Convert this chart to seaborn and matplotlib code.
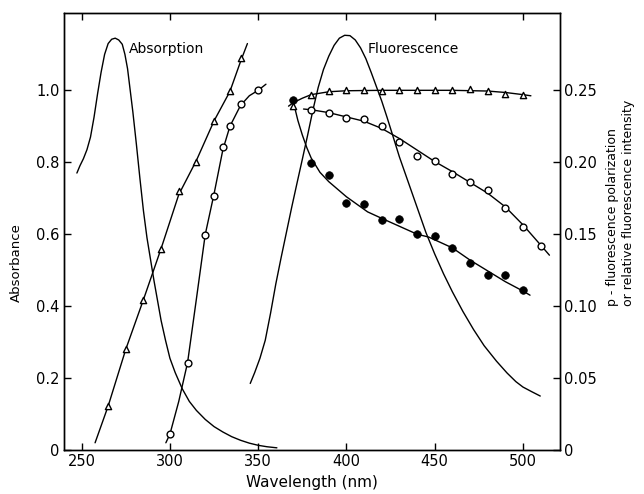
import matplotlib
matplotlib.use("Agg")
import matplotlib.pyplot as plt
import seaborn as sns

# ---------------- data ----------------
# Absorption spectrum (left axis, absorbance)
abs_wl = [247.3, 249, 251, 253, 255, 257, 259, 261, 263, 265, 267, 269, 271, 273,
          274.5, 276, 277.5, 279, 281, 283, 285, 287, 289, 291, 293, 295, 297.5,
          300, 303, 307, 311, 315, 320, 325, 330, 335, 340, 345, 350, 355, 360.6]
abs_val = [0.77, 0.79, 0.81, 0.835, 0.87, 0.925, 0.99, 1.05, 1.10, 1.13, 1.142,
           1.145, 1.14, 1.128, 1.10, 1.06, 1.00, 0.94, 0.85, 0.755, 0.665, 0.59,
           0.53, 0.47, 0.415, 0.36, 0.305, 0.255, 0.215, 0.17, 0.135, 0.11, 0.085,
           0.065, 0.05, 0.037, 0.027, 0.019, 0.013, 0.009, 0.006]

# Fluorescence emission spectrum (drawn in left-axis units)
fl_wl = [345.5, 348, 351, 354, 357, 360, 363, 366, 369, 372, 375, 378, 381, 384,
         387, 390, 393, 396, 399, 402, 405, 408, 411, 414, 417, 420, 423, 426,
         430, 435, 440, 445, 450, 455, 460, 466, 472, 478, 485, 491, 496, 500,
         505, 509.8]
fl_val = [0.185, 0.215, 0.255, 0.305, 0.38, 0.462, 0.535, 0.605, 0.675, 0.742,
          0.808, 0.875, 0.945, 1.008, 1.058, 1.095, 1.125, 1.145, 1.153, 1.152,
          1.14, 1.118, 1.088, 1.05, 1.01, 0.97, 0.925, 0.878, 0.815, 0.745, 0.675,
          0.605, 0.545, 0.49, 0.44, 0.385, 0.335, 0.29, 0.247, 0.214, 0.19,
          0.175, 0.162, 0.15]

# Left-axis series: triangles
tri_l_wl = [265, 275, 285, 295, 305, 315, 325, 334, 340]
tri_l_val = [0.122, 0.28, 0.418, 0.56, 0.72, 0.80, 0.915, 0.997, 1.09]
tri_l_fit_wl = [257.6, 265, 275, 285, 295, 305, 315, 325, 334, 340, 343.9]
tri_l_fit_val = [0.02, 0.122, 0.28, 0.418, 0.56, 0.71, 0.805, 0.915, 0.997, 1.08, 1.13]

# Left-axis series: open circles
circ_l_wl = [300, 310, 320, 325, 330, 334, 340, 350]
circ_l_val = [0.044, 0.243, 0.599, 0.706, 0.842, 0.9, 0.961, 1.0]
circ_l_fit_wl = [297.7, 300, 305, 310, 315, 320, 325, 330, 334, 340, 345, 350, 354.4]
circ_l_fit_val = [0.02, 0.044, 0.135, 0.243, 0.42, 0.599, 0.712, 0.835, 0.9, 0.958,
                  0.985, 1.0, 1.017]

# Right-axis series: triangles
tri_r_wl = [370, 380, 390, 400, 410, 420, 430, 440, 450, 460, 470, 480, 490, 500]
tri_r_val = [0.239, 0.247, 0.2495, 0.25, 0.25, 0.2495, 0.25, 0.25, 0.25, 0.2505,
             0.251, 0.2497, 0.2477, 0.2465]
tri_r_fit_wl = [367.2, 370, 375, 380, 390, 400, 420, 440, 460, 480, 490, 500, 504.5]
tri_r_fit_val = [0.239, 0.2415, 0.2445, 0.247, 0.249, 0.2497, 0.25, 0.25, 0.25,
                 0.2495, 0.2485, 0.247, 0.2462]

# Right-axis series: open circles
oc_wl = [380, 390, 400, 410, 420, 430, 440, 450, 460, 470, 480, 490, 500, 510]
oc_val = [0.2366, 0.234, 0.231, 0.230, 0.225, 0.214, 0.204, 0.201, 0.192, 0.186,
          0.1806, 0.168, 0.155, 0.142]
oc_fit_wl = [375.7, 380, 390, 400, 410, 420, 430, 440, 450, 460, 470, 480, 490,
             500, 510, 515]
oc_fit_val = [0.237, 0.2365, 0.2345, 0.2315, 0.2285, 0.2235, 0.2165, 0.2085,
              0.2005, 0.1935, 0.186, 0.1785, 0.169, 0.1565, 0.1425, 0.1354]

# Right-axis series: filled circles
fc_wl = [370, 380, 390, 400, 410, 420, 430, 440, 450, 460, 470, 480, 490, 500]
fc_val = [0.243, 0.1996, 0.191, 0.172, 0.171, 0.160, 0.1604, 0.150, 0.1486,
          0.1405, 0.130, 0.1215, 0.1215, 0.111]
fc_fit_wl = [369.7, 372.5, 375, 377.6, 380, 385, 390, 400, 412, 420, 430, 440,
             446.6, 460, 470, 480, 490, 500, 504]
fc_fit_val = [0.243, 0.229, 0.219, 0.210, 0.203, 0.193, 0.1865, 0.176, 0.1655,
              0.161, 0.1555, 0.150, 0.148, 0.1405, 0.132, 0.1245, 0.117, 0.1105,
              0.1076]

x_ticks = [250, 300, 350, 400, 450, 500]
left_ticks = [0, 0.2, 0.4, 0.6, 0.8, 1.0]
left_tick_labels = ["0", "0.2", "0.4", "0.6", "0.8", "1.0"]
right_ticks = [0, 0.05, 0.10, 0.15, 0.20, 0.25]
right_tick_labels = ["0", "0.05", "0.10", "0.15", "0.20", "0.25"]

# ---------------- figure ----------------
sns.set_theme(style="ticks")
plt.rcParams["font.family"] = ["DejaVu Sans"]

fig = plt.figure(figsize=(6.44, 4.94), dpi=100)
ax = fig.add_axes([0.0994, 0.0891, 0.7702, 0.8846])
ax2 = ax.twinx()

lw = 1.0
line_kw = dict(color="black", linewidth=lw, sort=False, estimator=None, legend=False)

# left axis curves
sns.lineplot(x=abs_wl, y=abs_val, ax=ax, **line_kw)
sns.lineplot(x=fl_wl, y=fl_val, ax=ax, **line_kw)
sns.lineplot(x=tri_l_fit_wl, y=tri_l_fit_val, ax=ax, **line_kw)
sns.lineplot(x=circ_l_fit_wl, y=circ_l_fit_val, ax=ax, **line_kw)
sns.scatterplot(x=tri_l_wl, y=tri_l_val, ax=ax, marker="^", s=20,
                facecolor="white", edgecolor="black", linewidth=1.0, zorder=5)
sns.scatterplot(x=circ_l_wl, y=circ_l_val, ax=ax, marker="o", s=24,
                facecolor="white", edgecolor="black", linewidth=1.0, zorder=5)

# right axis curves
sns.lineplot(x=tri_r_fit_wl, y=tri_r_fit_val, ax=ax2, **line_kw)
sns.lineplot(x=oc_fit_wl, y=oc_fit_val, ax=ax2, **line_kw)
sns.lineplot(x=fc_fit_wl, y=fc_fit_val, ax=ax2, **line_kw)
sns.scatterplot(x=tri_r_wl, y=tri_r_val, ax=ax2, marker="^", s=20,
                facecolor="white", edgecolor="black", linewidth=1.0, zorder=5)
sns.scatterplot(x=oc_wl, y=oc_val, ax=ax2, marker="o", s=24,
                facecolor="white", edgecolor="black", linewidth=1.0, zorder=5)
sns.scatterplot(x=fc_wl, y=fc_val, ax=ax2, marker="o", s=30,
                color="black", edgecolor="black", linewidth=0.5, zorder=5)

# limits
ax.set_xlim(240, 521)
ax.set_ylim(0, 1.215)
ax2.set_ylim(0, 1.215 / 4)

# ticks
ax.set_xticks(x_ticks)
ax.set_xticklabels([str(t) for t in x_ticks])
ax.set_yticks(left_ticks)
ax.set_yticklabels(left_tick_labels)
ax2.set_yticks(right_ticks)
ax2.set_yticklabels(right_tick_labels)
ax.tick_params(axis="both", direction="in", length=5, width=1, labelsize=10.5,
               colors="black", pad=3)
ax.tick_params(axis="x", top=True)
ax.tick_params(axis="y", right=False)
ax2.tick_params(axis="y", direction="in", length=5, width=1, labelsize=10.5,
                colors="black", pad=3)

for a in (ax, ax2):
    for sp in a.spines.values():
        sp.set_visible(True)
        sp.set_color("black")
        sp.set_linewidth(1.0)

# labels
ax.set_xlabel("Wavelength (nm)", fontsize=11, color="black", labelpad=4)
ax.set_ylabel("Absorbance", fontsize=9.5, color="black")
ax.yaxis.set_label_coords(-0.082, 0.43)
ax2.set_ylabel("")
fig.text(0.963, 0.59, "p - fluorescence polarization\nor relative fluorescence intensity",
         rotation=90, ha="center", va="center", multialignment="left",
         fontsize=9, color="black", linespacing=1.3)

ax.text(276.9, 1.114, "Absorption", fontsize=10, ha="left", va="center", color="black")
ax.text(411.8, 1.114, "Fluorescence", fontsize=10, ha="left", va="center", color="black")

fig.savefig("out.png", dpi=100)
